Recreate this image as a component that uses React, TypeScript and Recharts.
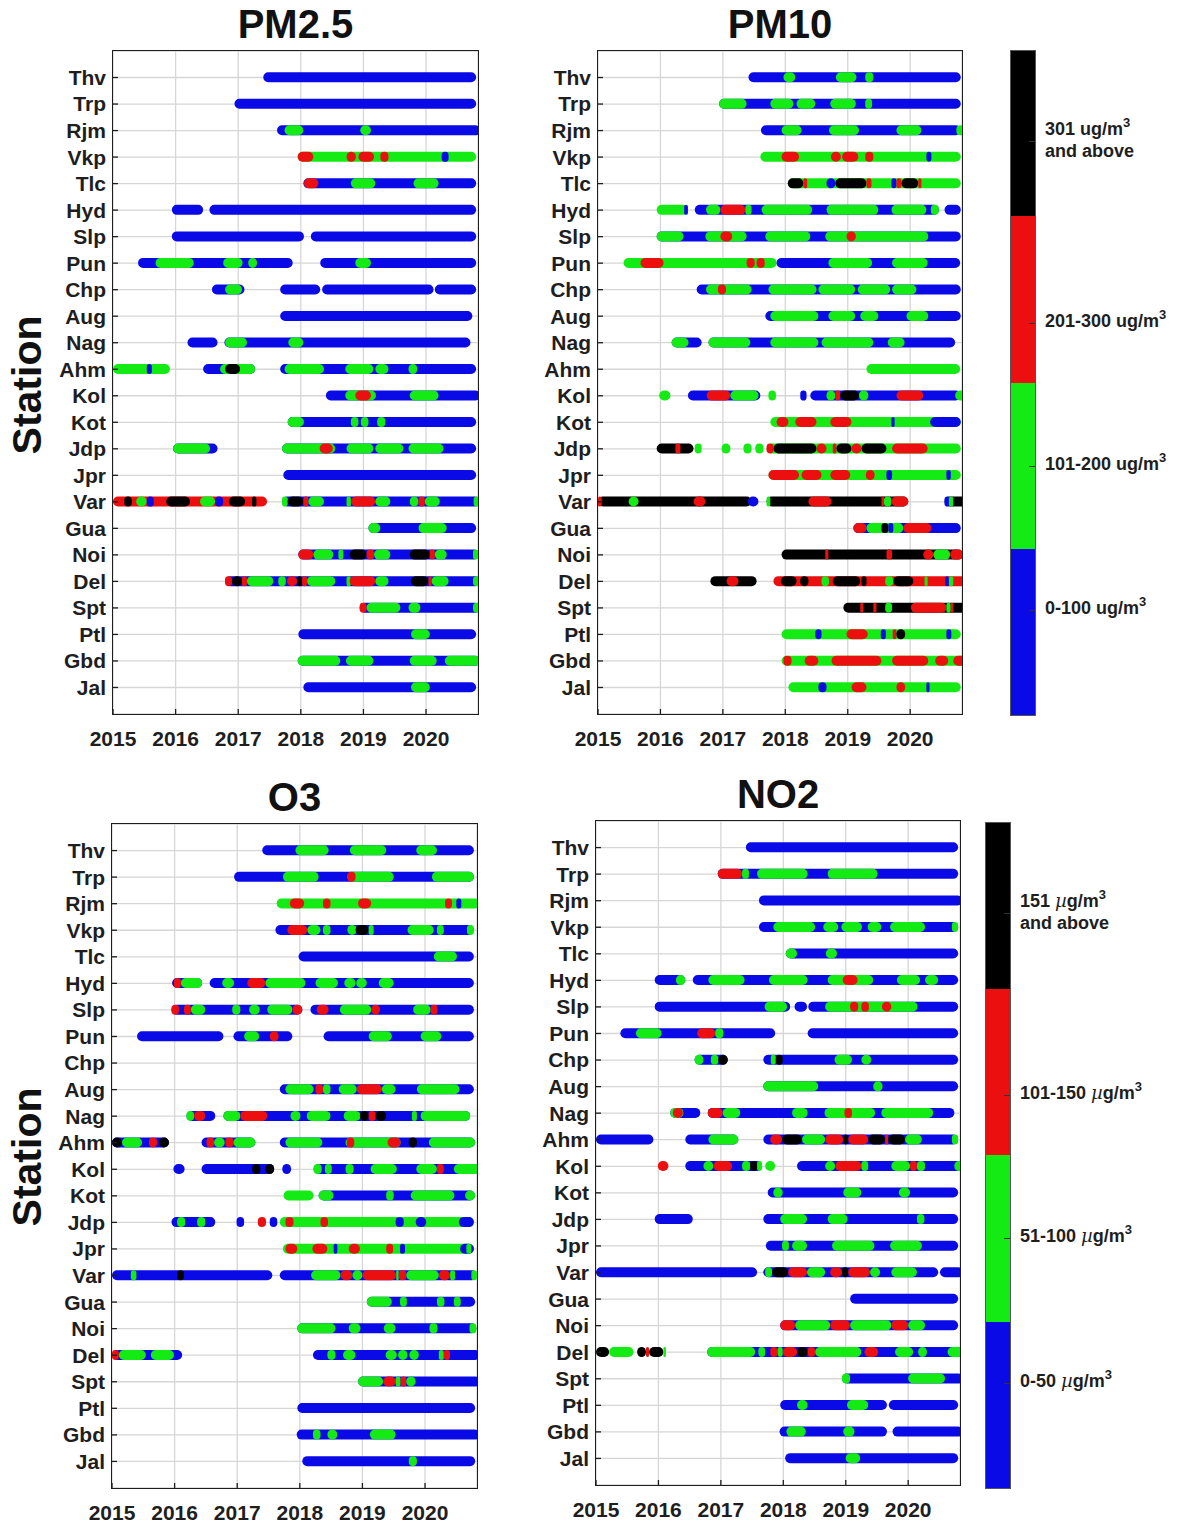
import React from 'react';
import { BarChart, Bar, Cell, XAxis, YAxis, CartesianGrid } from 'recharts';

// station order, top to bottom
const STATIONS = ['Thv', 'Trp', 'Rjm', 'Vkp', 'Tlc', 'Hyd', 'Slp', 'Pun', 'Chp', 'Aug', 'Nag', 'Ahm',
  'Kol', 'Kot', 'Jdp', 'Jpr', 'Var', 'Gua', 'Noi', 'Del', 'Spt', 'Ptl', 'Gbd', 'Jal'];
const YEARS = [2015, 2016, 2017, 2018, 2019, 2020];
const X_MIN = 2015;
const X_MAX = 2020.83;

// level 0 blue, 1 green, 2 red, 3 black
const LEVEL_COLORS = ['#0a0ae6', '#14eb14', '#eb0f0f', '#000000'];

const PM25_LABELS = ['301 ug/m|and above', '201-300 ug/m', '101-200 ug/m', '0-100 ug/m'];
const GAS_LABELS = ['151 µg/m|and above', '101-150 µg/m', '51-100 µg/m', '0-50 µg/m'];

type Seg = [number, number, number];

// each station: list of [start year, end year, level]; later segments are drawn on top
const pm25Rows: Seg[][] = [
  [[2017.40, 2020.80, 0]],
  [[2016.94, 2020.80, 0]],
  [[2017.62, 2020.87, 0], [2017.74, 2018.04, 1], [2018.95, 2019.12, 1]],
  [[2017.95, 2020.80, 1], [2017.95, 2018.20, 2], [2018.73, 2018.88, 2], [2018.92, 2019.17, 2], [2019.27, 2019.40, 2], [2020.25, 2020.36, 0]],
  [[2018.04, 2020.80, 0], [2018.05, 2018.28, 2], [2018.80, 2019.19, 1], [2019.80, 2020.20, 1]],
  [[2015.94, 2016.44, 0], [2016.54, 2020.80, 0]],
  [[2015.94, 2018.05, 0], [2018.16, 2020.80, 0]],
  [[2015.40, 2017.87, 0], [2015.68, 2016.29, 1], [2016.76, 2017.07, 1], [2017.16, 2017.30, 1], [2018.31, 2020.80, 0], [2018.87, 2019.12, 1]],
  [[2016.58, 2017.10, 0], [2016.79, 2017.06, 1], [2017.67, 2018.31, 0], [2018.34, 2020.12, 0], [2020.14, 2020.80, 0]],
  [[2017.67, 2020.74, 0]],
  [[2016.19, 2016.67, 0], [2016.78, 2020.71, 0], [2016.79, 2017.14, 1], [2017.80, 2018.04, 1]],
  [[2015.0, 2015.91, 1], [2015.54, 2015.62, 0], [2016.44, 2017.27, 0], [2016.71, 2017.27, 1], [2016.79, 2017.03, 3], [2017.67, 2020.80, 0], [2017.74, 2018.37, 1], [2018.71, 2019.16, 1], [2019.19, 2019.40, 1], [2019.72, 2019.86, 1]],
  [[2018.40, 2020.87, 0], [2018.71, 2019.20, 1], [2018.87, 2019.12, 2], [2019.74, 2020.20, 1]],
  [[2017.79, 2020.80, 0], [2017.79, 2018.05, 1], [2018.80, 2018.92, 1], [2018.96, 2019.08, 1], [2019.22, 2019.35, 1]],
  [[2015.96, 2016.67, 0], [2015.96, 2016.55, 1], [2017.70, 2020.80, 0], [2017.70, 2018.55, 1], [2018.30, 2018.51, 2], [2018.73, 2019.16, 1], [2019.19, 2019.64, 1], [2019.72, 2020.28, 1]],
  [[2017.72, 2020.80, 0]],
  [[2015.0, 2017.46, 2], [2015.18, 2015.30, 3], [2015.37, 2015.54, 1], [2015.54, 2015.65, 0], [2015.85, 2016.23, 3], [2016.39, 2016.63, 1], [2016.63, 2016.76, 0], [2016.85, 2017.11, 3], [2017.22, 2017.29, 3], [2017.70, 2020.86, 0], [2017.70, 2017.79, 1], [2017.79, 2018.04, 3], [2018.04, 2018.12, 2], [2018.12, 2018.37, 1], [2018.73, 2018.80, 1], [2018.80, 2019.19, 2], [2019.19, 2019.43, 1], [2019.74, 2019.88, 1], [2019.88, 2019.98, 2], [2019.98, 2020.22, 1], [2020.76, 2020.86, 1]],
  [[2019.08, 2020.80, 0], [2019.08, 2019.27, 1], [2019.88, 2020.33, 1]],
  [[2017.96, 2020.84, 0], [2017.96, 2018.20, 2], [2018.20, 2018.52, 1], [2018.60, 2018.68, 1], [2018.78, 2019.05, 3], [2019.05, 2019.17, 2], [2019.17, 2019.43, 1], [2019.74, 2020.06, 3], [2020.06, 2020.14, 2], [2020.14, 2020.33, 1], [2020.75, 2020.84, 1]],
  [[2016.79, 2020.87, 0], [2016.79, 2016.90, 2], [2016.90, 2017.06, 3], [2017.06, 2017.14, 2], [2017.14, 2017.56, 1], [2017.64, 2017.76, 1], [2017.78, 2017.94, 2], [2017.94, 2018.02, 3], [2018.02, 2018.10, 2], [2018.10, 2018.55, 1], [2018.73, 2018.80, 1], [2018.78, 2019.19, 2], [2019.19, 2019.40, 1], [2019.76, 2020.04, 3], [2020.04, 2020.09, 2], [2020.09, 2020.36, 1], [2020.75, 2020.87, 1]],
  [[2018.94, 2020.87, 0], [2018.94, 2019.05, 2], [2019.05, 2019.59, 1], [2019.72, 2019.91, 1], [2020.75, 2020.87, 1]],
  [[2017.96, 2020.80, 0], [2019.76, 2020.06, 1]],
  [[2017.95, 2020.87, 0], [2017.95, 2018.63, 1], [2018.72, 2019.16, 1], [2019.74, 2020.17, 1], [2020.30, 2020.87, 1]],
  [[2018.04, 2020.80, 0], [2019.76, 2020.06, 1]],
];

const pm10Rows: Seg[][] = [
  [[2017.41, 2020.81, 0], [2017.97, 2018.16, 1], [2018.81, 2019.14, 1], [2019.28, 2019.41, 1]],
  [[2016.94, 2020.81, 0], [2016.94, 2017.38, 1], [2017.76, 2018.13, 1], [2018.18, 2018.48, 1], [2018.72, 2019.13, 1], [2019.28, 2019.39, 1]],
  [[2017.61, 2020.81, 0], [2017.94, 2018.26, 1], [2018.70, 2019.18, 1], [2019.78, 2020.18, 1], [2020.74, 2020.87, 1]],
  [[2017.60, 2020.81, 1], [2017.94, 2018.22, 2], [2018.73, 2018.89, 2], [2018.91, 2019.17, 2], [2019.28, 2019.41, 2], [2020.26, 2020.34, 0]],
  [[2018.04, 2020.81, 1], [2018.04, 2018.29, 3], [2018.29, 2018.35, 2], [2018.66, 2018.80, 0], [2018.80, 2019.30, 3], [2019.30, 2019.38, 2], [2019.70, 2019.78, 0], [2019.78, 2019.86, 2], [2019.86, 2020.13, 3], [2020.13, 2020.18, 2]],
  [[2015.94, 2016.44, 1], [2016.38, 2016.44, 0], [2016.55, 2020.46, 0], [2016.73, 2016.96, 1], [2016.96, 2017.36, 2], [2017.36, 2017.46, 1], [2017.62, 2018.43, 1], [2018.66, 2019.49, 1], [2019.70, 2020.26, 1], [2020.33, 2020.46, 1], [2020.55, 2020.81, 0]],
  [[2015.94, 2020.81, 0], [2015.94, 2016.37, 1], [2016.72, 2017.38, 1], [2016.96, 2017.15, 2], [2017.68, 2018.40, 1], [2018.64, 2020.29, 1], [2018.98, 2019.13, 2]],
  [[2015.41, 2017.86, 1], [2015.68, 2016.05, 2], [2017.38, 2017.51, 2], [2017.54, 2017.67, 2], [2017.86, 2020.80, 0], [2018.69, 2019.39, 1], [2019.71, 2020.28, 1]],
  [[2016.58, 2020.81, 0], [2016.73, 2017.46, 1], [2016.92, 2017.05, 2], [2017.73, 2018.50, 1], [2018.53, 2019.12, 1], [2019.16, 2019.68, 1], [2019.71, 2020.10, 1]],
  [[2017.68, 2020.81, 0], [2017.76, 2018.53, 1], [2018.69, 2019.12, 1], [2019.20, 2019.49, 1], [2019.94, 2020.29, 1]],
  [[2016.18, 2016.66, 0], [2016.18, 2016.45, 1], [2016.77, 2020.72, 0], [2016.77, 2017.44, 1], [2017.76, 2018.53, 1], [2018.58, 2019.41, 1], [2019.64, 2019.91, 1]],
  [[2019.30, 2020.80, 1]],
  [[2015.98, 2016.16, 1], [2016.44, 2017.60, 0], [2016.74, 2017.12, 2], [2017.12, 2017.57, 1], [2017.73, 2017.85, 1], [2018.24, 2018.34, 0], [2018.40, 2020.81, 0], [2018.66, 2018.80, 1], [2018.80, 2018.88, 2], [2018.88, 2019.18, 3], [2019.18, 2019.33, 1], [2019.78, 2020.21, 2], [2020.72, 2020.90, 1]],
  [[2017.76, 2020.81, 1], [2017.86, 2018.05, 2], [2018.16, 2018.50, 2], [2018.72, 2019.06, 2], [2019.70, 2019.75, 0], [2020.32, 2020.81, 0]],
  [[2015.94, 2016.53, 3], [2016.24, 2016.32, 2], [2016.55, 2016.66, 1], [2016.98, 2017.12, 1], [2017.33, 2017.46, 1], [2017.52, 2017.65, 1], [2017.70, 2020.81, 1], [2017.70, 2017.81, 2], [2017.81, 2018.50, 3], [2018.50, 2018.66, 2], [2018.76, 2018.82, 2], [2018.82, 2019.06, 3], [2019.06, 2019.22, 2], [2019.22, 2019.62, 3], [2019.71, 2020.28, 2]],
  [[2017.73, 2020.81, 1], [2017.73, 2018.22, 2], [2018.26, 2018.58, 2], [2018.72, 2019.04, 2], [2019.29, 2019.43, 2], [2019.62, 2019.71, 0], [2020.58, 2020.65, 0]],
  [[2015.0, 2017.46, 3], [2015.0, 2015.06, 2], [2015.49, 2015.65, 1], [2016.53, 2016.72, 2], [2017.40, 2017.57, 0], [2017.70, 2019.97, 3], [2017.70, 2017.76, 1], [2018.37, 2018.74, 2], [2019.54, 2019.58, 2], [2019.58, 2019.70, 1], [2019.70, 2019.97, 2], [2020.55, 2020.90, 3], [2020.55, 2020.64, 0], [2020.62, 2020.69, 1]],
  [[2019.09, 2020.81, 0], [2019.09, 2019.30, 2], [2019.30, 2019.89, 1], [2019.54, 2019.65, 3], [2019.65, 2019.73, 0], [2019.89, 2020.34, 2]],
  [[2017.94, 2020.85, 3], [2018.64, 2018.69, 2], [2019.62, 2019.71, 2], [2020.21, 2020.37, 2], [2020.37, 2020.64, 1], [2020.64, 2020.85, 2]],
  [[2016.80, 2017.54, 3], [2017.06, 2017.25, 2], [2017.81, 2020.90, 2], [2017.93, 2018.18, 3], [2018.24, 2018.37, 3], [2018.58, 2018.70, 1], [2018.76, 2019.20, 3], [2019.22, 2019.30, 3], [2019.60, 2019.73, 1], [2019.73, 2020.05, 3], [2020.23, 2020.28, 1], [2020.56, 2020.62, 0], [2020.62, 2020.69, 1]],
  [[2018.93, 2020.90, 3], [2019.20, 2019.25, 2], [2019.41, 2019.46, 2], [2019.60, 2019.71, 1], [2020.01, 2020.58, 2], [2020.58, 2020.65, 1], [2020.65, 2020.69, 2]],
  [[2017.94, 2020.81, 1], [2018.48, 2018.58, 0], [2018.98, 2019.32, 2], [2019.53, 2019.61, 0], [2019.72, 2019.78, 2], [2019.78, 2019.92, 3], [2020.58, 2020.66, 0]],
  [[2017.94, 2020.90, 1], [2017.97, 2018.10, 2], [2018.31, 2018.53, 2], [2018.74, 2019.54, 2], [2019.71, 2020.29, 2], [2020.40, 2020.61, 2], [2020.69, 2020.90, 2]],
  [[2018.05, 2020.81, 1], [2018.53, 2018.66, 0], [2019.06, 2019.30, 2], [2019.78, 2019.92, 2], [2020.26, 2020.31, 0]],
];

const o3Rows: Seg[][] = [
  [[2017.40, 2020.78, 0], [2017.93, 2018.46, 1], [2018.80, 2019.38, 1], [2019.86, 2020.19, 1]],
  [[2016.95, 2020.78, 0], [2017.73, 2018.30, 1], [2018.76, 2019.50, 1], [2018.76, 2018.89, 2], [2020.11, 2020.78, 1]],
  [[2017.63, 2020.88, 1], [2017.84, 2018.07, 2], [2018.37, 2018.49, 2], [2018.93, 2019.14, 2], [2020.32, 2020.43, 2], [2020.50, 2020.58, 0]],
  [[2017.61, 2020.78, 0], [2017.80, 2018.12, 2], [2018.12, 2018.33, 1], [2018.37, 2018.49, 1], [2018.76, 2018.91, 1], [2018.89, 2019.10, 3], [2019.10, 2019.18, 1], [2019.72, 2020.14, 1], [2020.19, 2020.30, 1], [2020.67, 2020.78, 1]],
  [[2017.98, 2020.78, 0], [2020.14, 2020.51, 1]],
  [[2015.96, 2016.44, 0], [2015.99, 2016.10, 2], [2016.10, 2016.44, 1], [2016.56, 2020.78, 0], [2016.76, 2016.95, 1], [2017.16, 2017.45, 2], [2017.45, 2018.09, 1], [2018.25, 2018.61, 1], [2018.71, 2018.89, 1], [2018.90, 2019.07, 1], [2019.26, 2019.50, 1]],
  [[2015.95, 2018.04, 0], [2015.95, 2016.07, 2], [2016.15, 2016.26, 2], [2016.26, 2016.49, 1], [2016.92, 2017.05, 1], [2017.19, 2017.36, 1], [2017.48, 2017.88, 1], [2017.88, 2018.04, 2], [2018.17, 2020.78, 0], [2018.27, 2018.46, 2], [2018.64, 2019.14, 1], [2019.14, 2019.28, 2], [2019.81, 2020.09, 1], [2020.09, 2020.20, 2]],
  [[2015.40, 2016.78, 0], [2016.94, 2017.88, 0], [2017.11, 2017.35, 1], [2017.52, 2017.66, 2], [2018.38, 2020.78, 0], [2019.10, 2019.47, 1], [2019.93, 2020.26, 1]],
  [],
  [[2017.68, 2020.78, 0], [2017.77, 2018.22, 1], [2018.25, 2018.37, 2], [2018.37, 2018.49, 1], [2018.62, 2018.91, 1], [2018.91, 2019.31, 2], [2019.31, 2019.53, 1], [2019.87, 2020.55, 1]],
  [[2016.19, 2016.65, 0], [2016.19, 2016.31, 1], [2016.31, 2016.49, 2], [2016.78, 2020.72, 0], [2016.78, 2017.05, 1], [2017.05, 2017.48, 2], [2017.85, 2018.01, 1], [2018.11, 2018.49, 1], [2018.70, 2018.97, 1], [2018.96, 2019.10, 3], [2019.10, 2019.21, 2], [2019.21, 2019.38, 3], [2019.79, 2019.87, 1], [2019.93, 2020.72, 1]],
  [[2015.0, 2015.91, 0], [2015.0, 2015.16, 3], [2015.16, 2015.48, 1], [2015.59, 2015.72, 2], [2015.75, 2015.91, 3], [2016.43, 2017.29, 0], [2016.51, 2016.63, 2], [2016.63, 2016.80, 1], [2016.81, 2016.94, 2], [2016.94, 2017.29, 1], [2017.68, 2020.80, 0], [2017.77, 2018.36, 1], [2018.73, 2019.61, 1], [2018.75, 2018.87, 2], [2019.40, 2019.61, 2], [2019.74, 2019.87, 3], [2020.06, 2020.80, 1]],
  [[2015.98, 2016.16, 0], [2016.43, 2017.59, 0], [2017.24, 2017.37, 3], [2017.45, 2017.59, 3], [2017.72, 2017.86, 0], [2018.22, 2020.88, 0], [2018.22, 2018.35, 1], [2018.40, 2018.51, 1], [2018.73, 2018.86, 1], [2019.13, 2019.55, 1], [2019.86, 2020.19, 1], [2020.19, 2020.30, 2], [2020.46, 2020.88, 1]],
  [[2017.74, 2018.22, 1], [2018.30, 2020.80, 0], [2018.30, 2018.54, 1], [2019.38, 2019.50, 1], [2019.77, 2020.47, 1], [2020.64, 2020.80, 1]],
  [[2015.95, 2016.65, 0], [2016.04, 2016.17, 1], [2016.36, 2016.49, 1], [2016.99, 2017.11, 0], [2017.33, 2017.46, 2], [2017.52, 2017.64, 0], [2017.68, 2020.78, 1], [2017.77, 2017.90, 2], [2018.33, 2018.45, 2], [2019.53, 2019.66, 0], [2019.85, 2020.02, 0], [2020.54, 2020.78, 0]],
  [[2017.73, 2020.78, 1], [2017.77, 2017.96, 2], [2018.20, 2018.44, 2], [2018.54, 2018.60, 0], [2018.78, 2018.96, 2], [2019.38, 2019.49, 2], [2019.60, 2019.68, 0], [2020.56, 2020.78, 0], [2020.66, 2020.74, 1]],
  [[2015.0, 2017.56, 0], [2015.30, 2015.39, 1], [2016.04, 2016.15, 3], [2017.68, 2020.83, 0], [2018.18, 2018.65, 1], [2018.65, 2018.84, 2], [2018.84, 2019.00, 1], [2019.00, 2019.54, 2], [2019.54, 2019.58, 1], [2019.58, 2019.70, 2], [2019.70, 2020.22, 1], [2020.22, 2020.40, 2], [2020.40, 2020.48, 1], [2020.74, 2020.83, 1]],
  [[2019.07, 2020.80, 0], [2019.07, 2019.47, 1], [2019.60, 2019.71, 1], [2020.19, 2020.31, 1], [2020.46, 2020.57, 1]],
  [[2017.96, 2020.82, 0], [2017.96, 2018.57, 1], [2018.78, 2018.97, 1], [2019.34, 2019.53, 1], [2020.07, 2020.20, 1], [2020.71, 2020.82, 1]],
  [[2015.0, 2016.12, 0], [2015.0, 2015.11, 2], [2015.11, 2015.54, 1], [2015.62, 2015.99, 1], [2018.21, 2020.88, 0], [2018.44, 2018.57, 1], [2018.69, 2018.89, 1], [2019.37, 2019.55, 1], [2019.57, 2019.72, 1], [2019.75, 2019.90, 1], [2020.22, 2020.30, 1], [2020.30, 2020.40, 2]],
  [[2018.93, 2020.88, 0], [2018.93, 2019.33, 1], [2019.33, 2019.53, 2], [2019.53, 2019.61, 1], [2019.61, 2019.70, 2], [2019.70, 2019.85, 1]],
  [[2017.96, 2020.80, 0]],
  [[2017.95, 2020.88, 0], [2018.21, 2018.33, 1], [2018.44, 2018.60, 1], [2019.12, 2019.53, 1]],
  [[2018.04, 2020.80, 0], [2019.74, 2019.87, 1]],
];

const no2Rows: Seg[][] = [
  [[2017.40, 2020.80, 0]],
  [[2016.95, 2020.80, 0], [2016.95, 2017.34, 2], [2017.34, 2017.45, 1], [2017.58, 2018.39, 1], [2018.71, 2019.51, 1]],
  [[2017.61, 2020.87, 0]],
  [[2017.61, 2020.80, 0], [2017.84, 2018.51, 1], [2018.64, 2018.88, 1], [2018.93, 2019.26, 1], [2019.35, 2019.57, 1], [2019.71, 2020.27, 1], [2020.70, 2020.80, 1]],
  [[2018.04, 2020.80, 0], [2018.04, 2018.22, 1], [2018.68, 2018.86, 1]],
  [[2015.94, 2016.43, 0], [2016.28, 2016.43, 1], [2016.55, 2020.80, 0], [2016.80, 2017.38, 1], [2017.77, 2018.39, 1], [2018.71, 2019.44, 1], [2018.95, 2019.19, 2], [2019.82, 2020.19, 1], [2020.27, 2020.48, 1]],
  [[2015.94, 2018.11, 0], [2017.70, 2018.06, 1], [2018.18, 2018.38, 0], [2018.40, 2020.80, 0], [2018.67, 2020.15, 1], [2019.07, 2019.20, 2], [2019.25, 2019.37, 2], [2019.58, 2019.73, 2]],
  [[2015.39, 2017.87, 0], [2015.64, 2016.05, 1], [2016.62, 2016.91, 2], [2016.91, 2017.04, 1], [2018.39, 2020.80, 0]],
  [[2016.58, 2017.11, 0], [2016.58, 2016.72, 1], [2016.84, 2016.96, 1], [2016.96, 2017.11, 3], [2017.68, 2020.80, 0], [2017.80, 2017.88, 1], [2017.88, 2017.99, 3], [2018.82, 2019.10, 1], [2019.25, 2019.41, 1]],
  [[2017.68, 2020.80, 0], [2017.68, 2018.56, 1], [2019.44, 2019.59, 1]],
  [[2016.19, 2016.67, 0], [2016.19, 2016.40, 1], [2016.23, 2016.39, 2], [2016.79, 2020.74, 0], [2016.79, 2017.03, 2], [2017.03, 2017.31, 1], [2018.14, 2018.39, 1], [2018.66, 2019.47, 1], [2018.98, 2019.10, 2], [2019.57, 2020.40, 1]],
  [[2015.0, 2015.92, 0], [2016.43, 2017.28, 0], [2016.80, 2017.28, 1], [2017.68, 2020.80, 0], [2017.79, 2017.98, 2], [2017.98, 2018.30, 3], [2018.30, 2018.67, 1], [2018.67, 2018.96, 2], [2018.96, 2019.04, 3], [2019.04, 2019.36, 2], [2019.36, 2019.63, 3], [2019.63, 2019.68, 2], [2019.68, 2019.95, 3], [2019.95, 2020.22, 1], [2020.70, 2020.80, 1]],
  [[2015.99, 2016.16, 2], [2016.43, 2017.66, 0], [2016.72, 2016.88, 1], [2016.88, 2017.18, 2], [2017.34, 2017.47, 1], [2017.47, 2017.58, 3], [2017.58, 2017.66, 1], [2017.71, 2017.87, 1], [2018.22, 2020.88, 0], [2018.67, 2018.83, 1], [2018.83, 2019.25, 2], [2019.25, 2019.36, 1], [2019.73, 2020.03, 1], [2020.03, 2020.14, 2], [2020.14, 2020.27, 1], [2020.74, 2020.88, 1]],
  [[2017.75, 2020.80, 0], [2017.84, 2017.99, 1], [2018.96, 2019.25, 1], [2019.85, 2020.03, 1]],
  [[2015.94, 2016.55, 0], [2017.68, 2020.80, 0], [2017.95, 2018.38, 1], [2018.71, 2019.03, 1], [2020.14, 2020.26, 1]],
  [[2017.72, 2020.80, 0], [2017.98, 2018.09, 1], [2018.14, 2018.38, 1], [2018.78, 2019.46, 1], [2019.71, 2020.22, 1]],
  [[2015.0, 2017.58, 0], [2017.68, 2020.48, 0], [2017.71, 2017.82, 1], [2017.82, 2018.08, 3], [2018.08, 2018.38, 2], [2018.38, 2018.67, 1], [2018.75, 2018.94, 2], [2018.94, 2019.04, 3], [2019.04, 2019.39, 2], [2019.39, 2019.55, 1], [2019.73, 2020.14, 1], [2020.51, 2020.88, 0]],
  [[2019.07, 2020.80, 0]],
  [[2017.95, 2020.80, 0], [2017.95, 2018.19, 2], [2018.19, 2018.75, 1], [2018.75, 2019.07, 2], [2019.07, 2019.73, 1], [2019.73, 2020.00, 2], [2020.00, 2020.27, 1]],
  [[2015.0, 2015.21, 3], [2015.21, 2015.60, 1], [2015.66, 2015.80, 3], [2015.80, 2015.85, 2], [2015.85, 2016.08, 3], [2016.08, 2016.12, 1], [2016.78, 2020.88, 0], [2016.78, 2017.55, 1], [2017.60, 2017.71, 1], [2017.79, 2017.91, 2], [2017.91, 2017.99, 1], [2017.99, 2018.22, 2], [2018.22, 2018.39, 3], [2018.39, 2018.51, 2], [2018.51, 2019.25, 1], [2019.30, 2019.52, 2], [2019.79, 2020.08, 1], [2020.16, 2020.30, 1], [2020.63, 2020.88, 1]],
  [[2018.94, 2020.88, 0], [2018.94, 2019.07, 1], [2020.00, 2020.59, 1]],
  [[2017.95, 2019.66, 0], [2018.22, 2018.39, 1], [2019.02, 2019.36, 1], [2019.69, 2020.80, 0]],
  [[2017.94, 2019.66, 0], [2018.05, 2018.36, 1], [2018.96, 2019.14, 1], [2019.75, 2020.88, 0]],
  [[2018.03, 2020.80, 0], [2019.00, 2019.23, 1]],
];

type Row = { station: string; segs: Seg[] };

const toRows = (rows: Seg[][]): Row[] => STATIONS.map((s, i) => ({ station: s, segs: rows[i] || [] }));
const PANEL_DATA = {
  pm25: toRows(pm25Rows),
  pm10: toRows(pm10Rows),
  o3: toRows(o3Rows),
  no2: toRows(no2Rows),
};

// stable accessors, one per segment slot (an empty slot gives a zero-width bar)
const segKeys = Array.from({ length: 40 }, (_, k) => (d: Row) => {
  const s = d.segs[k];
  return s ? [s[0], s[1]] : [X_MIN, X_MIN];
});

const FONT = '"Liberation Sans", Arial, Helvetica, sans-serif';
const INK = '#1e1e1e';
const tickStyle = { fill: INK, fontSize: 21, fontWeight: 700, fontFamily: FONT };
const BAR_H = 10;

interface PanelProps {
  title: string;
  data: Row[];
  left: number;
  top: number;
  width: number;
  height: number;
}

const Panel: React.FC<PanelProps> = ({ title, data, left, top, width, height }) => {
  const axisW = 104;
  const pad = height / 50;
  const nSeg = Math.max(1, ...data.map(r => r.segs.length));

  return (
    <>
      <div style={{ position: 'absolute', left, top: top - 50, width, textAlign: 'center', fontFamily: FONT, fontWeight: 700, fontSize: 40, lineHeight: '46px', color: '#111' }}>
        {title}
      </div>
      <div style={{ position: 'absolute', left: left - axisW, top }}>
        <BarChart
          layout="vertical"
          width={axisW + width + 14}
          height={height + 44}
          data={data}
          margin={{ top: 0, right: 14, bottom: 4, left: 0 }}
          barSize={BAR_H}
          barGap={-BAR_H}
          barCategoryGap={0}
        >
          <CartesianGrid stroke="#d6d6d6" strokeWidth={1.3} />
          <XAxis
            type="number"
            domain={[X_MIN, X_MAX]}
            ticks={YEARS}
            allowDataOverflow
            interval={0}
            height={40}
            axisLine={false}
            tickSize={-5}
            tickMargin={22}
            tickLine={{ stroke: INK, strokeWidth: 1.3 }}
            tick={tickStyle}
          />
          <YAxis
            type="category"
            dataKey="station"
            width={axisW}
            interval={0}
            padding={{ top: pad, bottom: pad }}
            axisLine={false}
            tickSize={-5}
            tickMargin={12}
            tickLine={{ stroke: INK, strokeWidth: 1.3 }}
            tick={tickStyle}
          />
          {Array.from({ length: nSeg }, (_, k) => (
            <Bar key={k} dataKey={segKeys[k]} radius={BAR_H / 2} isAnimationActive={false}>
              {data.map((r, i) => (
                <Cell key={i} fill={r.segs[k] ? LEVEL_COLORS[r.segs[k][2]] : 'none'} />
              ))}
            </Bar>
          ))}
        </BarChart>
      </div>
      <div style={{ position: 'absolute', left: left - 0.75, top: top - 0.75, width: width + 1.5, height: height + 1.5, border: `1.6px solid ${INK}`, boxSizing: 'border-box', pointerEvents: 'none' }} />
    </>
  );
};

const labelPos = [0.137, 0.41, 0.625, 0.842];

const ColorBar: React.FC<{ left: number; top: number; height: number; labels: string[] }> = ({ left, top, height, labels }) => {
  const w = 25;
  const order = [3, 2, 1, 0];
  return (
    <>
      {order.map((lvl, i) => (
        <div key={lvl} style={{ position: 'absolute', left, top: top + (i * height) / 4, width: w, height: height / 4, background: LEVEL_COLORS[lvl] }} />
      ))}
      <div style={{ position: 'absolute', left: left - 0.5, top: top - 0.5, width: w + 1, height: height + 1, border: '1px solid #555', boxSizing: 'border-box' }} />
      {labels.map((txt, i) => {
        const lines = txt.split('|');
        const y = top + labelPos[i] * height;
        return (
          <div key={i}>
            <div style={{ position: 'absolute', left: left + w - 6, top: y, width: 6, height: 1, background: '#333' }} />
            <div style={{ position: 'absolute', left: left + w + 10, top: y - (lines.length * 20) / 2 - 2, fontFamily: FONT, fontWeight: 700, fontSize: 18, lineHeight: '20px', color: INK, whiteSpace: 'nowrap' }}>
              {lines.map((ln, j) => {
                const mu = ln.indexOf('µ');
                return (
                  <div key={j}>
                    {mu >= 0 ? (
                      <>
                        {ln.slice(0, mu)}
                        <span style={{ fontFamily: '"DejaVu Serif", serif', fontStyle: 'italic', fontWeight: 400 }}>µ</span>
                        {ln.slice(mu + 1)}
                      </>
                    ) : ln}
                    {j === 0 && <sup style={{ fontSize: 13, verticalAlign: 0, position: 'relative', top: -8 }}>3</sup>}
                  </div>
                );
              })}
            </div>
          </div>
        );
      })}
    </>
  );
};

const StationLabel: React.FC<{ cx: number; cy: number }> = ({ cx, cy }) => (
  <div style={{ position: 'absolute', left: cx, top: cy, transform: 'translate(-50%, -50%) rotate(-90deg)', fontFamily: FONT, fontWeight: 700, fontSize: 41, color: '#111', whiteSpace: 'nowrap' }}>
    Station
  </div>
);

export default function App() {
  return (
    <div style={{ position: 'absolute', left: 0, top: 0, width: 1200, height: 1525, background: '#fff', overflow: 'hidden' }}>
      <Panel title="PM2.5" data={PANEL_DATA.pm25} left={113} top={51} width={365} height={663} />
      <Panel title="PM10" data={PANEL_DATA.pm10} left={598} top={51} width={364} height={663} />
      <Panel title="O3" data={PANEL_DATA.o3} left={112} top={824} width={365} height={664} />
      <Panel title="NO2" data={PANEL_DATA.no2} left={596} top={821} width={364} height={664} />
      <StationLabel cx={27} cy={385} />
      <StationLabel cx={27} cy={1157} />
      <ColorBar left={1010} top={50} height={665} labels={PM25_LABELS} />
      <ColorBar left={985} top={822} height={666} labels={GAS_LABELS} />
    </div>
  );
}
